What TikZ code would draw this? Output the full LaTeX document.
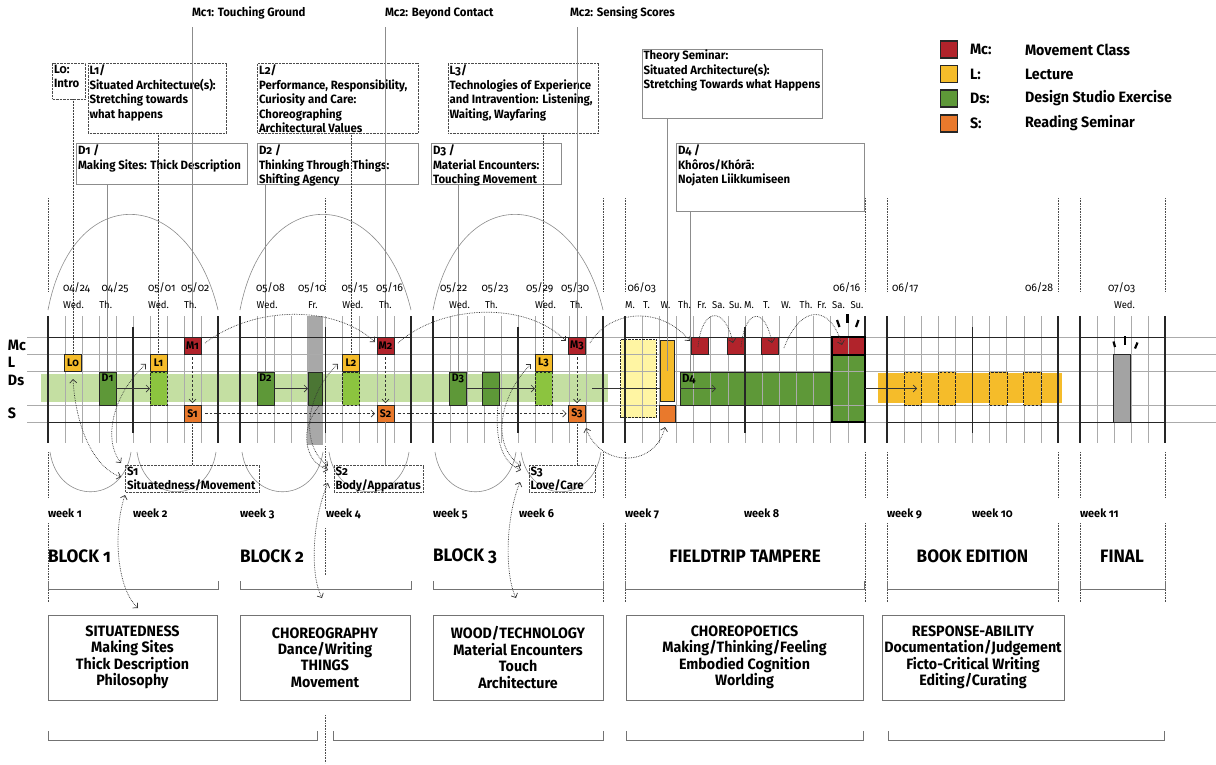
\documentclass[tikz,border=0pt]{standalone}
\usepackage{fontspec}
\setmainfont{Fira Sans}[Numbers=OldStyle,FakeStretch=0.95]
\usetikzlibrary{arrows.meta}
\definecolor{mcred}{HTML}{B1232B}
\definecolor{lyel}{HTML}{F5BC2A}
\definecolor{dgrn}{HTML}{5E9838}
\definecolor{orng}{HTML}{E9792C}
\definecolor{lgrn}{HTML}{C4DFA2}
\definecolor{mgrn}{HTML}{8CC43F}
\definecolor{pyel}{HTML}{FFF5A3}
\definecolor{gbar}{HTML}{A8A8A8}
\definecolor{ovgrn}{HTML}{4B7634}
\definecolor{fgray}{HTML}{A3A3A3}
\begin{document}
\begin{tikzpicture}[x=1pt,y=-1pt,
 every node/.style={inner sep=0pt,outer sep=0pt},
 gl/.style={draw=black!33,line width=0.6pt},
 dk/.style={draw=black!85,line width=1pt},
 thk/.style={draw=black!85,line width=1.6pt},
 dotv/.style={draw=black!70,line width=0.6pt,dash pattern=on 0.6pt off 1pt},
 sq/.style={draw=black!85,line width=0.9pt,minimum width=17pt,minimum height=17pt,anchor=north west,font=\bfseries\fontsize{11}{11}\selectfont},
 dsq/.style={draw=black!85,line width=0.9pt,minimum width=17pt,minimum height=33pt,anchor=north west},
 dashsq/.style={dsq,dash pattern=on 2.5pt off 1.5pt},
 tbox/.style={draw=black!45,line width=0.6pt,anchor=north west},
 tdbox/.style={draw=black!70,line width=0.7pt,dash pattern=on 0.6pt off 0.8pt,anchor=north west},
 ttxt/.style={font=\bfseries\fontsize{12}{14.5}\selectfont,align=left,anchor=north west},
 dtxt/.style={font=\bfseries\fontsize{11}{11}\selectfont,anchor=north},
 datef/.style={font=\fontsize{11}{11}\selectfont,anchor=west},
 dayf/.style={font=\fontsize{10}{10}\selectfont,anchor=west},
 dayc/.style={font=\fontsize{10}{10}\selectfont,anchor=center},
 conn/.style={draw=black!45,line width=0.6pt},
 dconn/.style={draw=black!75,line width=0.6pt,dash pattern=on 0.6pt off 0.9pt},
 arc/.style={draw=black!45,line width=0.6pt},
 dotc/.style={draw=black!80,line width=0.7pt,dash pattern=on 0.7pt off 1pt},
 dashc/.style={draw=black!80,line width=0.7pt,dash pattern=on 2.5pt off 2pt},
 barb/.style={-{Straight Barb[length=3.5pt,width=7pt]}},
 dbarb/.style={{Straight Barb[length=3.5pt,width=7pt]}-{Straight Barb[length=3.5pt,width=7pt]}},
 legf/.style={font=\bfseries\fontsize{15}{15}\selectfont,anchor=west},
 rowf/.style={font=\bfseries\fontsize{15}{15}\selectfont,anchor=west},
 weekf/.style={font=\bfseries\fontsize{11.5}{11.5}\selectfont,anchor=west},
 blockf/.style={font=\bfseries\fontsize{18}{18}\selectfont},
 bbox/.style={draw=black!55,line width=0.8pt,anchor=north west,minimum height=85pt},
 bboxt/.style={font=\bfseries\fontsize{15}{16.4}\selectfont,align=center},
 brk/.style={draw=black!55,line width=0.8pt},
 spark/.style={draw=black,line width=2.2pt}]
\useasboundingbox (0,0) rectangle (1216,764);
\fill[white] (0,0) rectangle (1216,764);

% ---------- fills under the grid ----------
\fill[lgrn] (40.7,374.3) rectangle (608.3,401.7);
\fill[gbar] (306.5,316) rectangle (322.5,445);
\fill[pyel] (620.5,339.5) rectangle (656,417.5);
\fill[dgrn] (680,372) rectangle (830,405);
\fill[mcred] (832,337) rectangle (865,354);
\fill[dgrn] (832,354) rectangle (865,422);
\fill[lyel] (878,373) rectangle (1062,403);

% ---------- grid ----------
\foreach \a/\b/\n/\m in {48/218/10/9,240/411/10/9,433/603/10/9,625/865/14/13,887/1058/10/9,1080/1165/5/4}{
  \foreach \i in {1,...,\m}{
    \pgfmathsetmacro{\xx}{\a+\i*(\b-\a)/\n}
    \draw[gl] (\xx,316) -- (\xx,443);
  }
}
\foreach \y in {337,354,371.5,405,422} \draw[gl] (27,\y) -- (1216,\y);
\foreach \a/\b in {48/218,240/411,433/603,625/865,887/1058,1080/1165}{
  \draw[dk] (\a,337) -- (\b,337);
  \draw[dk] (\a,422) -- (\b,422);
}
\foreach \x in {48,218,240,411,433,603,625,865,887,1058,1080,1165} \draw[thk] (\x,316) -- (\x,443);
\foreach \x in {133,325.5,518,745,972.5} \draw[thk] (\x,327) -- (\x,433);

% dotted guide lines
\foreach \x in {48,325.5,603,625,865,887,1058,1080,1165} \draw[dotv] (\x,198) -- (\x,292);
\foreach \x in {48,603,625,865,887,1058,1080,1165} \draw[dotv] (\x,452) -- (\x,498);
\draw[dotv] (325.5,446) -- (325.5,510);
\foreach \x in {48,603,625,865,887,1058,1080,1165} \draw[dotv] (\x,523) -- (\x,602);
\draw[dotv] (325.5,528) -- (325.5,575);
\draw[dotv] (325.5,715) -- (325.5,763);

% big arches and week curves
\foreach \a/\b in {48/218,240/411,433/603}
  \draw[arc] (\a,310) .. controls (\a+25,180) and (\b-30,185) .. (\b,310);
\foreach \a/\b in {50/131,137/216,242/323,329/409,435/516,521/601}
  \draw[arc] (\a,452) .. controls (\a+8,505) and (\b-8,505) .. (\b,452);

% ---------- row labels ----------
\node[rowf] (rMc) at (8,345.5) {Mc};
\node[rowf] (rL) at (8,362.5) {L};
\node[rowf] (rDs) at (8,380) {Ds};
\node[rowf] (rS) at (8,413) {S};

% ---------- grid boxes ----------
\node[sq,fill=lyel] (L0) at (64.5,354) {L0};
\node[sq,fill=lyel] (L1) at (150,354) {L1};
\node[sq,fill=lyel] (L2) at (342.5,354) {L2};
\node[sq,fill=lyel] (L3) at (535,354) {L3};
\node[sq,fill=mcred] (M1) at (184,337) {M1};
\node[sq,fill=mcred] (M2) at (377,337) {M2};
\node[sq,fill=mcred] (M3) at (568.5,337) {M3};
\node[sq,fill=orng] (S1) at (184,405) {S1};
\node[sq,fill=orng] (S2) at (377,405) {S2};
\node[sq,fill=orng] (S3) at (568.5,405) {S3};
\node[dsq,fill=dgrn] (D1) at (99,372) {};
\node[dtxt] (D1t) at ([yshift=-2pt]D1.north) {D1};
\node[dsq,fill=dgrn] (D2) at (257,372) {};
\node[dtxt] (D2t) at ([yshift=-2pt]D2.north) {D2};
\node[dsq,fill=dgrn] (D3) at (449.5,372) {};
\node[dtxt] (D3t) at ([yshift=-2pt]D3.north) {D3};
\node[dsq,fill=dgrn] (D3x) at (482.5,372) {};
\node[dsq,fill=ovgrn,minimum width=14.5pt] (DG) at (308,372) {};
\node[dashsq,fill=mgrn] (DL1) at (150,372) {};
\node[dashsq,fill=mgrn] (DL2) at (342.5,372) {};
\node[dashsq,fill=mgrn] (DL3) at (535,372) {};

% fieldtrip
\node[tdbox,draw=black!85,line width=0.9pt,minimum width=35.5pt,minimum height=78pt] (PY) at (620.5,339.5) {};
\node[draw=black!85,line width=0.9pt,fill=lyel,anchor=north west,minimum width=14pt,minimum height=61.5pt] (TY) at (660.5,340) {};
\node[draw=black!85,line width=0.9pt,fill=orng,anchor=north west,minimum width=16pt,minimum height=17pt] (FO) at (659.5,405) {};
\node[draw=black!85,line width=0.9pt,anchor=north west,minimum width=150pt,minimum height=33pt] (D4) at (680,372) {};
\node[font=\bfseries\fontsize{12}{12}\selectfont,anchor=north west] (D4t) at (682,374) {D4};
\node[sq,fill=mcred] (R1) at (691.5,337) {};
\node[sq,fill=mcred] (R2) at (727.5,337) {};
\node[sq,fill=mcred] (R3) at (761.5,337) {};
\node[draw=black,line width=2pt,anchor=north west,minimum width=33pt,minimum height=85pt] (BG) at (832,337) {};
\draw[draw=black,line width=2pt] (BG.north west |- 0,354.5) -- (BG.north east |- 0,354.5);
\draw[spark] (837,320) -- (839.5,327);
\draw[spark] (847.5,314) -- (847.5,323);
\draw[spark] (858.5,320) -- (856,327);

% book edition
\foreach \x [count=\k] in {904,938,989.5,1023.5}
  \node[dashsq,fill=lyel,minimum width=17.5pt] (BX\k) at (\x,372) {};
% final
\node[draw=black!85,line width=0.9pt,fill=fgray,anchor=north west,minimum width=17pt,minimum height=68pt] (FG) at (1113,354) {};
\draw[spark] (1113.5,341.5) -- (1115,347);
\draw[spark] (1125,336) -- (1125,344.5);
\draw[spark] (1137.5,342.5) -- (1135,348.5);

% ---------- arrows in rows ----------
\draw[draw=black!80,line width=0.7pt,barb] (D1.east) -- (DL1.west);
\draw[draw=black!80,line width=0.7pt,barb] (D2.east) -- (DG.west);
\draw[draw=black!80,line width=0.7pt,barb] (D3.east) -- (DL3.west);
\coordinate (b3e) at (592,388.5);
\draw[draw=black!80,line width=0.7pt] (b3e) -- (b3e -| TY.west);
\coordinate (d4a) at (716,388.5);
\draw[draw=black!80,line width=0.7pt,barb] (D4.west) -- (d4a);
\coordinate (bka) at (917,388.5);
\draw[draw=black!80,line width=0.7pt,barb] (BG.east |- d4a) -- (bka);
\draw[dashc,barb] ([yshift=-3pt]M1.south) -- ([yshift=2pt]S1.north);
\draw[dashc,barb] ([yshift=-3pt]M2.south) -- ([yshift=2pt]S2.north);
\draw[dashc,barb] ([yshift=-3pt]M3.south) -- ([yshift=2pt]S3.north);
\draw[dashc,barb] ([xshift=4pt]S1.east) -- ([xshift=-2pt]S2.west);
\draw[dashc,barb] ([xshift=4pt]S2.east) -- ([xshift=-2pt]S3.west);

% dotted curved arrows
\draw[dotc,barb] (205,343) .. controls (255,305) and (335,305) .. (375,342);
\draw[dotc,barb] (398,343) .. controls (440,305) and (525,300) .. (566,341);
\draw[dotc,barb] (590,343) .. controls (610,310) and (660,305) .. (690,341);
\draw[dotc,barb] (698,347) .. controls (702,306) and (725,306) .. (733,343);
\draw[dotc,barb] (741,347) .. controls (745,308) and (765,306) .. (772,343);
\draw[dotc,barb] (784,348) .. controls (800,305) and (830,303) .. (842,345);
\draw[dotc,dbarb] (586,428) .. controls (600,468) and (655,468) .. (665,427);

% ---------- top labels ----------
\node[ttxt,anchor=west] (mc1t) at (192,13) {Mc1: Touching Ground};
\node[ttxt,anchor=west] (mc2t) at (385,13) {Mc2: Beyond Contact};
\node[ttxt,anchor=west] (mc3t) at (570,13) {Mc2: Sensing Scores};

\node[tdbox,minimum width=32.6pt,minimum height=36pt] (L0b) at (52.7,63) {};
\node[ttxt] (L0bt) at (54,65) {L0:\\Intro};
\node[tdbox,minimum width=138.4pt,minimum height=70pt] (L1b) at (88.3,63) {};
\node[ttxt] (L1bt) at (89.5,65) {L1/\\Situated Architecture(s):\\Stretching towards\\what happens};
\node[tbox,minimum width=171pt,minimum height=40.7pt] (D1b) at (76.7,143.3) {};
\node[ttxt] (D1bt) at (78,145) {D1 /\\Making Sites: Thick Description};
\node[tdbox,minimum width=160.6pt,minimum height=70pt] (L2b) at (257.7,63) {};
\node[ttxt] (L2bt) at (259,65) {L2/\\Performance, Responsibility,\\Curiosity and Care:\\Choreographing\\Architectural Values};
\node[tbox,minimum width=160.6pt,minimum height=40.7pt] (D2b) at (257.7,143.3) {};
\node[ttxt] (D2bt) at (259,145) {D2 /\\Thinking Through Things:\\Shifting Agency};
\node[tdbox,minimum width=150pt,minimum height=70pt] (L3b) at (448.3,63) {};
\node[ttxt] (L3bt) at (449.5,65) {L3/\\Technologies of Experience\\and Intravention: Listening,\\Waiting, Wayfaring};
\node[tbox,minimum width=129.3pt,minimum height=40.7pt] (D3b) at (431.7,143.3) {};
\node[ttxt] (D3bt) at (433,145) {D3 /\\Material Encounters:\\Touching Movement};
\node[tbox,minimum width=180.4pt,minimum height=69pt] (THb) at (642.3,49.3) {};
\node[ttxt] (THbt) at (643.5,50) {Theory Seminar:\\Situated Architecture(s):\\Stretching Towards what Happens};
\node[tbox,minimum width=187.6pt,minimum height=68.4pt] (D4b) at (676.7,143.3) {};
\node[ttxt] (D4bt) at (678,145) {D4 /\\Khôros/Khórā:\\Nojaten Liikkumiseen};

% connectors from top boxes
\draw[conn] (M1.north |- 0,27) -- (M1.north);
\draw[conn] (M2.north |- 0,27) -- (M2.north);
\draw[conn] (M3.north |- 0,27) -- (M3.north);
\draw[dconn] (L0.north |- L0b.south) -- (L0.north);
\draw[dconn] (L1.north |- L1b.south) -- (L1.north);
\draw[dconn] (L2.north |- L2b.south) -- (L2.north);
\draw[dconn] (L3.north |- L3b.south) -- (L3.north);
\draw[conn] (D1.north |- D1b.south) -- (D1.north);
\draw[conn] (D2.north |- D2b.south) -- (D2.north);
\draw[conn] (D3.north |- D3b.south) -- (D3.north);
\draw[conn] (TY.center |- THb.south) -- (TY.center);
\coordinate (d4l) at (690.7,372);
\draw[conn] (d4l |- D4b.south) -- (d4l);

% ---------- dates ----------
\foreach \x/\t [count=\k] in {63/04\slash 24,101.5/04\slash 25,148/05\slash 01,181/05\slash 02,256/05\slash 08,298/05\slash 10,341.5/05\slash 15,376/05\slash 16,440/05\slash 22,481.5/05\slash 23,526/05\slash 29,561/05\slash 30,627.5/06\slash 03,833/06\slash 16,892/06\slash 17,1025/06\slash 28,1108/07\slash 03}
  \node[datef] (dt\k) at (\x,288) {\t};
\foreach \x/\t [count=\k] in {63/Wed.,99.3/Th.,148/Wed.,184/Th.,256.7/Wed.,308/Fr.,342.3/Wed.,379/Th.,449/Wed.,485/Th.,535/Wed.,570/Th.,1114/Wed.}
  \node[dayf] (dy\k) at (\x,305) {\t};
\foreach \x/\t [count=\k] in {630/M.,646.5/T.,665.5/W.,684.5/Th.,702/Fr.,718.5/Sa.,735.5/Su.,749/M.,766.5/T.,786/W.,806/Th.,822/Fr.,838.5/Sa.,857/Su.}
  \node[dayc] (fd\k) at (\x,305) {\t};

% ---------- S labels ----------
\node[tdbox,minimum width=133.6pt,minimum height=27.3pt] (S1lab) at (125.7,465) {};
\node[ttxt] (S1labt) at (127,466.5) {S1\\Situatedness/Movement};
\node[tdbox,minimum width=89pt,minimum height=27pt] (S2lab) at (334.3,465) {};
\node[ttxt] (S2labt) at (335.5,466.5) {S2\\Body/Apparatus};
\node[tdbox,minimum width=65.7pt,minimum height=27pt] (S3lab) at (529.3,465) {};
\node[ttxt] (S3labt) at (530.5,466.5) {S3\\Love/Care};
\draw[dconn] (S1.south) -- (S1.south |- S1lab.north);
\draw[conn] (S2.south) -- (S2.south |- S2lab.north);
\draw[dconn] (S3.south) -- (S3.south |- S3lab.north);

% ---------- bottom boxes ----------
\node[bbox,minimum width=169pt] (B1) at (48,615) {};
\node[bbox,minimum width=170pt] (B2) at (240,615) {};
\node[bbox,minimum width=170pt] (B3) at (433,615) {};
\node[bbox,minimum width=237pt] (B4) at (626,615) {};
\node[bbox,minimum width=182pt] (B5) at (882,615) {};
\node[bboxt] (B1t) at (B1.center) {SITUATEDNESS\\Making Sites\\Thick Description\\Philosophy};
\node[bboxt] (B2t) at (B2.center) {CHOREOGRAPHY\\Dance/Writing\\THINGS\\Movement};
\node[bboxt] (B3t) at (B3.center) {WOOD/TECHNOLOGY\\Material Encounters\\Touch\\Architecture};
\node[bboxt] (B4t) at (B4.center) {CHOREOPOETICS\\Making/Thinking/Feeling\\Embodied Cognition\\Worlding};
\node[bboxt] (B5t) at (B5.center) {RESPONSE-ABILITY\\Documentation/Judgement\\Ficto-Critical Writing\\Editing/Curating};

% curved dotted links below
\draw[dotc,dbarb] (73,379) .. controls (76,430) and (95,468) .. (121,477);
\draw[dotc,dbarb] (146,364) .. controls (112,395) and (103,440) .. (121,463);
\draw[dotc,dbarb] (125,495) .. controls (112,535) and (118,590) .. (138,608);
\draw[dotc,dbarb] (338,364) .. controls (305,395) and (300,445) .. (328,466);
\draw[dotc,barb] (320,405) .. controls (298,430) and (305,462) .. (328,470);
\draw[dotc,dbarb] (328,483) .. controls (312,520) and (310,575) .. (322,598);
\draw[dotc,dbarb] (531,364) .. controls (500,395) and (490,445) .. (521,466);
\draw[dotc,barb] (498,405) .. controls (495,435) and (500,462) .. (521,470);
\draw[dotc,dbarb] (520,482) .. controls (505,520) and (505,575) .. (516,598);

% ---------- weeks and blocks ----------
\foreach \x/\t [count=\k] in {48/week 1,133/week 2,240/week 3,326/week 4,433/week 5,519/week 6,625/week 7,744/week 8,887/week 9,972/week 10,1080/week 11}
  \node[weekf] (wk\k) at (\x,513.5) {\t};
\node[blockf,anchor=west] (bl1) at (48,556) {BLOCK 1};
\node[blockf,anchor=west] (bl2) at (240,556) {BLOCK 2};
\node[blockf,anchor=west] (bl3) at (433,556) {BLOCK 3};
\node[blockf] (bl4) at (745,556) {FIELDTRIP TAMPERE};
\node[blockf] (bl5) at (972.5,556) {BOOK EDITION};
\node[blockf] (bl6) at (1122,556) {FINAL};
\foreach \a/\b in {48/218,240/411,433/603,625/864,887/1058,1080/1165}
  \draw[brk] (\a,581) -- (\a,589.5) -- (\b,589.5) -- (\b,581);
\foreach \a/\b in {48/317,333/603,626/863,888/1164}
  \draw[brk] (\a,731) -- (\a,740) -- (\b,740) -- (\b,731);

% ---------- legend ----------
\foreach \y/\c/\k/\t [count=\j] in {41/mcred/Mc:/Movement Class,65.5/lyel/L:/Lecture,90/dgrn/Ds:/Design Studio Exercise,115/orng/S:/Reading Seminar}{
  \node[draw=black!85,line width=1.1pt,fill=\c,minimum width=17pt,minimum height=17pt,anchor=north west] (leg\j) at (940.5,\y) {};
  \node[legf] (legk\j) at (970,\y+8.5) {\k};
  \node[legf] (legt\j) at (1025,\y+8.5) {\t};
}
\end{tikzpicture}
\end{document}
